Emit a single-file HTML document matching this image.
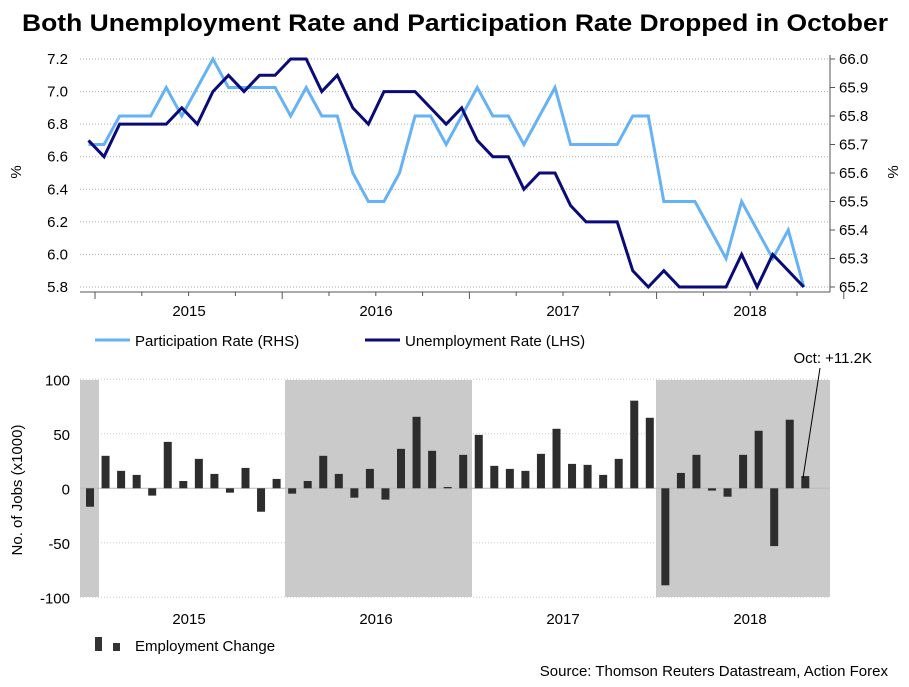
<!DOCTYPE html>
<html><head><meta charset="utf-8"><style>
body{margin:0;background:#fff;}
svg text{font-family:"Liberation Sans",sans-serif;}
</style></head><body>
<svg id="c" width="909" height="682" xmlns="http://www.w3.org/2000/svg">
<text x="22" y="31" textLength="866" lengthAdjust="spacingAndGlyphs" font-size="24" font-weight="bold">Both Unemployment Rate and Participation Rate Dropped in October</text>
<g id="topG"></g>
<g id="botG"></g>
<g>
<line x1="95" y1="340" x2="130" y2="340" stroke="#66b2f5" stroke-width="3"/>
<text x="135" y="346" font-size="15">Participation Rate (RHS)</text>
<line x1="365" y1="340" x2="400" y2="340" stroke="#0a0a78" stroke-width="3"/>
<text x="405" y="346" font-size="15">Unemployment Rate (LHS)</text>
</g>
<g>
<rect x="95" y="637" width="7" height="14" fill="#333"/>
<rect x="113" y="643" width="7" height="8" fill="#333"/>
<text x="135" y="651" font-size="15">Employment Change</text>
</g>
<text x="888" y="676" text-anchor="end" font-size="15">Source: Thomson Reuters Datastream, Action Forex</text>
<text x="872" y="363" text-anchor="end" font-size="15">Oct: +11.2K</text>
<line x1="820" y1="368" x2="803" y2="478" stroke="#000" stroke-width="1"/>
</svg>
<script>
const unemp=[6.7,6.6,6.8,6.8,6.8,6.8,6.9,6.8,7.0,7.1,7.0,7.1,7.1,7.2,7.2,7.0,7.1,6.9,6.8,7.0,7.0,7.0,6.9,6.8,6.9,6.7,6.6,6.6,6.4,6.5,6.5,6.3,6.2,6.2,6.2,5.9,5.8,5.9,5.8,5.8,5.8,5.8,6.0,5.8,6.0,5.9,5.8];
const partic=[65.7,65.7,65.8,65.8,65.8,65.9,65.8,65.9,66.0,65.9,65.9,65.9,65.9,65.8,65.9,65.8,65.8,65.6,65.5,65.5,65.6,65.8,65.8,65.7,65.8,65.9,65.8,65.8,65.7,65.8,65.9,65.7,65.7,65.7,65.7,65.8,65.8,65.5,65.5,65.5,65.4,65.3,65.5,65.4,65.3,65.4,65.2];
const jobs=[-16.9,29.8,16,12.3,-6.7,42.6,6.7,27,13.2,-4,18.7,-21.5,8.6,-4.9,6.7,29.8,13.2,-8.6,17.8,-10.4,36.2,65.6,34.4,1.2,30.7,49,20.6,17.8,16,31.6,54.6,22.4,21.5,12.3,27,80.4,64.7,-89,14.1,30.7,-2.1,-7.7,30.7,52.8,-53,62.9,11.2];
const lhsTicks=[7.2,7.0,6.8,6.6,6.4,6.2,6.0,5.8];
const rhsTicks=[66.0,65.9,65.8,65.7,65.6,65.5,65.4,65.3,65.2];
const jobTicks=[100,50,0,-50,-100];
const years=["2015","2016","2017","2018"];
const NS="http://www.w3.org/2000/svg";
function mk(p,t,a){const e=document.createElementNS(NS,t);for(const k in a)e.setAttribute(k,a[k]);p.appendChild(e);return e;}
const X=i=>88.5+15.55*i;
const yL=v=>59+(7.2-v)/1.4*228;
const yR=v=>59+(66.0-v)/0.8*228;
const yJ=v=>488.3-v*1.09;
const topG=document.getElementById('topG'),botG=document.getElementById('botG');
lhsTicks.forEach(v=>{
 const g=mk(topG,'line',{x1:80,x2:830,y1:yL(v),y2:yL(v),stroke:'#aaa','stroke-dasharray':'1,2'});
 
 
 const t=mk(topG,'text',{x:68,y:yL(v)+5,'text-anchor':'end','font-size':15});t.textContent=v.toFixed(1);
 
 
});
rhsTicks.forEach(v=>{
 mk(topG,'line',{x1:830,x2:835,y1:yR(v),y2:yR(v),stroke:'#555'});
 const t=mk(topG,'text',{x:839,y:yR(v)+5,'font-size':15});t.textContent=v.toFixed(1);
 
 
});
mk(topG,'line',{x1:830,x2:830,y1:55,y2:292,stroke:'#555'});
mk(topG,'line',{x1:80,x2:830,y1:292,y2:292,stroke:'#555'});
for(let q=0;q<17;q++){const x=95+q*46.8;mk(topG,'line',{x1:x,x2:x,y1:292,y2:q%4==0?299:296,stroke:'#555'});}
years.forEach((y,i)=>{const t=mk(topG,'text',{x:189+i*187,y:316,'text-anchor':'middle','font-size':15});t.textContent=y;
 
 });
let t1=mk(topG,'text',{x:0,y:0,'font-size':15,transform:'translate(21,172) rotate(-90)','text-anchor':'middle'});t1.textContent='%';


let t2=mk(topG,'text',{x:0,y:0,'font-size':15,transform:'translate(898,172) rotate(-90)','text-anchor':'middle'});t2.textContent='%';


const pp=mk(topG,'polyline',{points:partic.map((v,i)=>X(i)+','+yR(v)).join(' '),fill:'none',stroke:'#66b2f5','stroke-width':3});


const up=mk(topG,'polyline',{points:unemp.map((v,i)=>X(i)+','+yL(v)).join(' '),fill:'none',stroke:'#0a0a78','stroke-width':3});


[[80,99],[285,472],[656,830]].forEach(s=>{const r=mk(botG,'rect',{x:s[0],y:380,width:s[1]-s[0],height:217,fill:'#cacaca'});
 
 });
jobTicks.forEach(v=>{
 mk(botG,'line',{x1:80,x2:830,y1:yJ(v),y2:yJ(v),stroke:v==0?'#bbb':'#ccc','stroke-dasharray':v==0?'':'1,2'});
 const t=mk(botG,'text',{x:70,y:yJ(v)+6,'text-anchor':'end','font-size':15});t.textContent=v;
 
 
});
years.forEach((y,i)=>{const t=mk(botG,'text',{x:189+i*187,y:624,'text-anchor':'middle','font-size':15});t.textContent=y;
 
 });
let t3=mk(botG,'text',{x:0,y:0,'font-size':15,transform:'translate(22,490) rotate(-90)','text-anchor':'middle'});t3.textContent='No. of Jobs (x1000)';


jobs.forEach((v,i)=>{
 const y0=yJ(Math.max(v,0)),h=Math.abs(yJ(v)-yJ(0));
 const b=mk(botG,'rect',{x:X(i)+1.5-4,y:y0,width:8,height:Math.max(h,1),fill:'#2d2d2d'});
 
 
});
</script>
</body></html>
